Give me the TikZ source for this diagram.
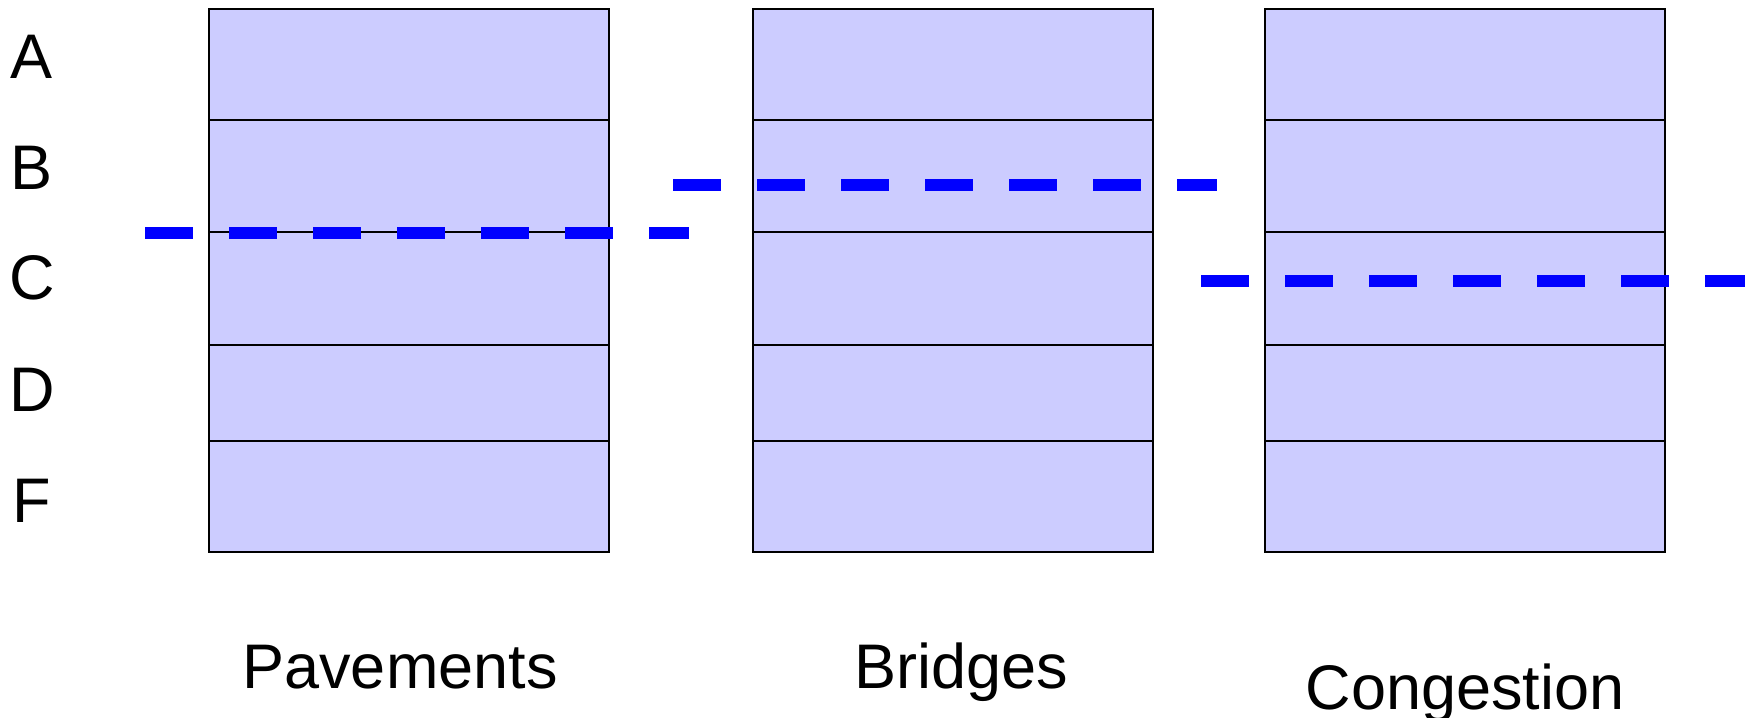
\documentclass[tikz,border=0pt]{standalone}
\usepackage{fontspec}
\setmainfont{Liberation Sans}
\definecolor{boxfill}{HTML}{CCCCFF}
\definecolor{levelblue}{HTML}{0000FF}
\tikzset{
  cell/.style={draw=black, line width=1.6pt, fill=boxfill, minimum width=400pt, inner sep=0pt, outer sep=0pt},
  bigtext/.style={font=\fontsize{63}{70}\selectfont, inner sep=0pt, anchor=base},
  level/.style={draw=levelblue, line width=12pt, dash pattern=on 48pt off 36pt}
}
\begin{document}
\begin{tikzpicture}[x=1pt,y=-1pt]
\useasboundingbox (0,0) rectangle (1752,717);
% columns
\foreach \c/\x in {p/209, b/753, g/1265}{
  \node[cell, minimum height=111pt, anchor=north west] (\c1) at (\x,9) {};
  \node[cell, minimum height=112pt, anchor=north west] (\c2) at (\x,120) {};
  \node[cell, minimum height=113pt, anchor=north west] (\c3) at (\x,232) {};
  \node[cell, minimum height=96pt, anchor=north west] (\c4) at (\x,345) {};
  \node[cell, minimum height=111pt, anchor=north west] (\c5) at (\x,441) {};
}
% row labels
\node[bigtext] (la) at (32,78) {A};
\node[bigtext] (lb) at (32,189) {B};
\node[bigtext] (lc) at (32,299) {C};
\node[bigtext] (ld) at (32,411) {D};
\node[bigtext] (lf) at (32,522) {F};
% column labels
\node[bigtext] (tp) at (400,688) {Pavements};
\node[bigtext] (tb) at (961,688) {Bridges};
\node[bigtext] (tg) at (1465,709) {Congestion};
% level lines
\draw[level] (145,233) -- (689,233);
\draw[level] (673,185) -- (1217,185);
\draw[level] (1201,281) -- (1745,281);
\end{tikzpicture}
\end{document}
